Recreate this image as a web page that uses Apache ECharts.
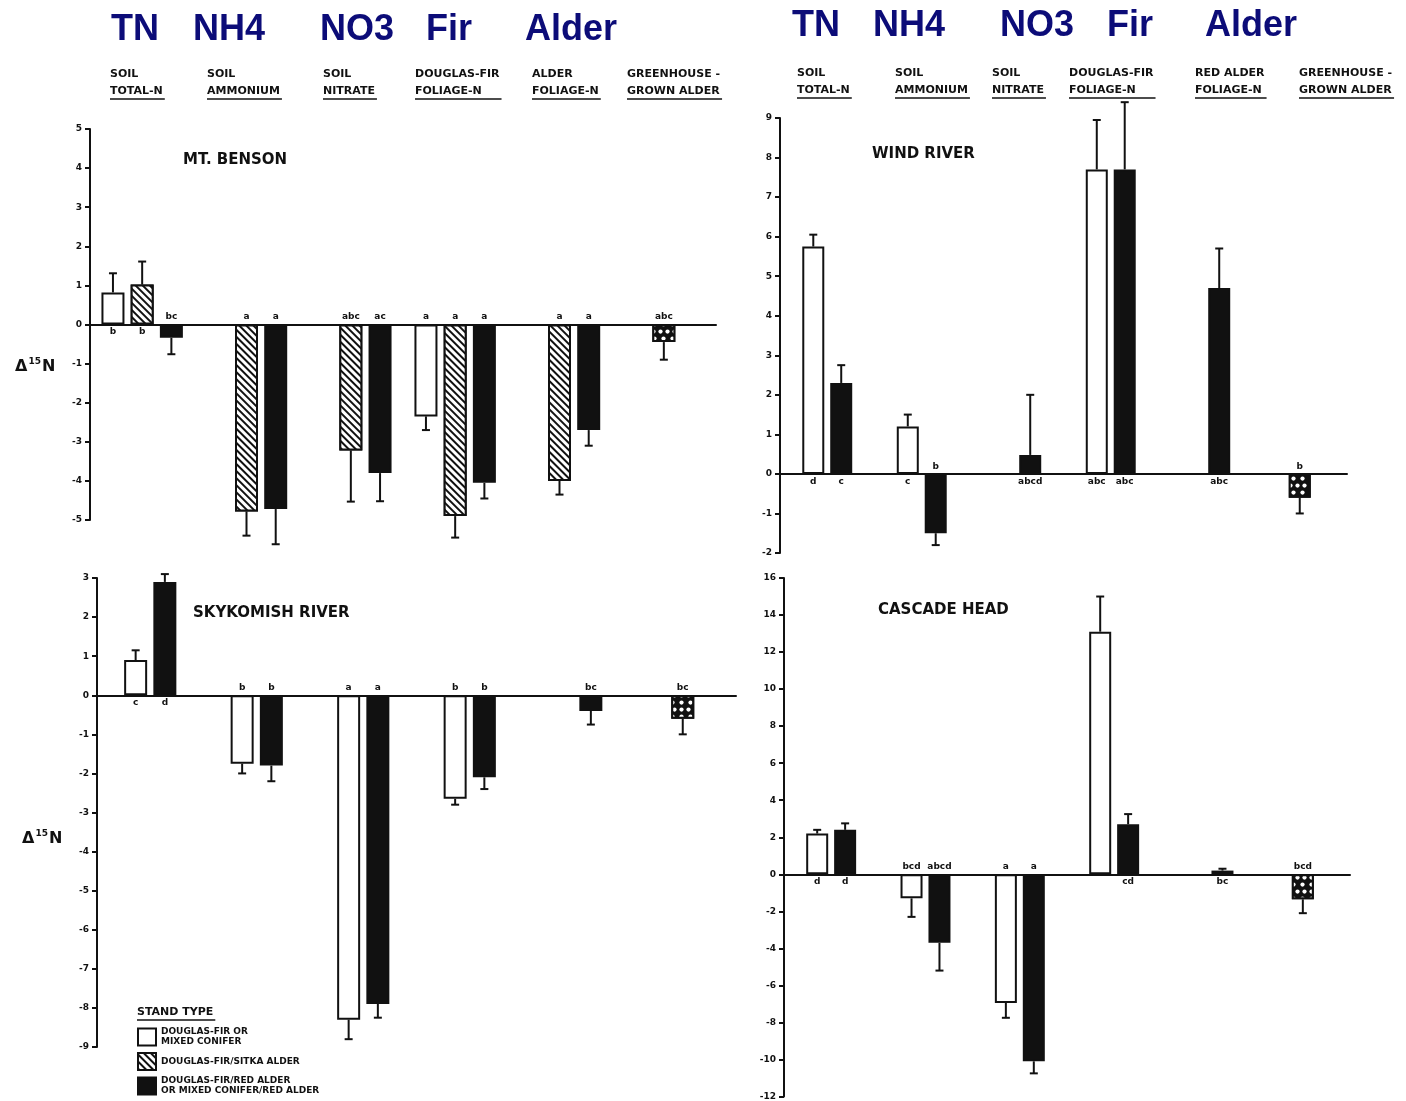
<!DOCTYPE html>
<html>
<head>
<meta charset="utf-8">
<script src="https://cdn.jsdelivr.net/npm/echarts@6/dist/echarts.min.js"></script>
<style>
  html, body { margin: 0; padding: 0; background: #fff; }
  #chart { width: 1406px; height: 1101px; }
</style>
</head>
<body>
<div id="chart"></div>
<script>
// ---------------- data ----------------
const shortLabels = ['TN', 'NH4', 'NO3', 'Fir', 'Alder'];
const groupsLeft = ['SOIL\nTOTAL-N', 'SOIL\nAMMONIUM', 'SOIL\nNITRATE', 'DOUGLAS-FIR\nFOLIAGE-N', 'ALDER\nFOLIAGE-N', 'GREENHOUSE -\nGROWN ALDER'];
const groupsRight = ['SOIL\nTOTAL-N', 'SOIL\nAMMONIUM', 'SOIL\nNITRATE', 'DOUGLAS-FIR\nFOLIAGE-N', 'RED ALDER\nFOLIAGE-N', 'GREENHOUSE -\nGROWN ALDER'];
const standTypes = ['DOUGLAS-FIR OR\nMIXED CONIFER', 'DOUGLAS-FIR/SITKA ALDER', 'DOUGLAS-FIR/RED ALDER\nOR MIXED CONIFER/RED ALDER'];
const greenhouseName = 'GREENHOUSE-GROWN ALDER';
const siteNames = ['MT. BENSON', 'WIND RIVER', 'SKYKOMISH RIVER', 'CASCADE HEAD'];

// y-axis ranges: [min, max, interval]
const mtBensonAxis = [-5, 5, 1];
const windRiverAxis = [-2, 9, 1];
const skykomishAxis = [-9, 3, 1];
const cascadeAxis = [-12, 16, 2];

// Mt. Benson (mean, end of error bar, significance letters)
const mbConiferMean = [0.82, null, null, -2.35, null];
const mbConiferErr  = [1.31, null, null, -2.7, null];
const mbConiferSig  = ['b', '', '', 'a', ''];
const mbSitkaMean = [1.02, -4.78, -3.22, -4.9, -4.0];
const mbSitkaErr  = [1.61, -5.4, -4.53, -5.45, -4.35];
const mbSitkaSig  = ['b', 'a', 'abc', 'a', 'a'];
const mbRedMean = [-0.34, -4.72, -3.8, -4.05, -2.7];
const mbRedErr  = [-0.76, -5.62, -4.52, -4.45, -3.1];
const mbRedSig  = ['bc', 'a', 'ac', 'a', 'a'];
const mbGreenMean = -0.45, mbGreenErr = -0.9, mbGreenSig = 'abc';

// Wind River
const wrConiferMean = [5.75, 1.2, null, 7.7, null];
const wrConiferErr  = [6.05, 1.5, null, 8.95, null];
const wrConiferSig  = ['d', 'c', '', 'abc', ''];
const wrRedMean = [2.3, -1.5, 0.48, 7.7, 4.7];
const wrRedErr  = [2.75, -1.8, 2.0, 9.4, 5.7];
const wrRedSig  = ['c', 'b', 'abcd', 'abc', 'abc'];
const wrGreenMean = -0.6, wrGreenErr = -1.0, wrGreenSig = 'b';

// Skykomish River
const skConiferMean = [0.9, -1.75, -8.3, -2.65, null];
const skConiferErr  = [1.15, -2.0, -8.8, -2.8, null];
const skConiferSig  = ['c', 'b', 'a', 'b', ''];
const skRedMean = [2.9, -1.8, -7.9, -2.1, -0.4];
const skRedErr  = [3.1, -2.2, -8.25, -2.4, -0.75];
const skRedSig  = ['d', 'b', 'a', 'b', 'bc'];
const skGreenMean = -0.6, skGreenErr = -1.0, skGreenSig = 'bc';

// Cascade Head
const chConiferMean = [2.2, -1.3, -6.95, 13.1, null];
const chConiferErr  = [2.4, -2.3, -7.75, 15.0, null];
const chConiferSig  = ['d', 'bcd', 'a', '', ''];
const chRedMean = [2.4, -3.7, -10.1, 2.7, 0.2];
const chRedErr  = [2.75, -5.2, -10.75, 3.25, 0.3];
const chRedSig  = ['d', 'abcd', 'a', 'cd', 'bc'];
const chGreenMean = -1.35, chGreenErr = -2.1, chGreenSig = 'bcd';

// ---------------- layout & style ----------------
const INK = '#111';
const NAVY = '#0c0c78';
const FONT = '"DejaVu Sans", "Liberation Sans", sans-serif';
const BAR_GAP_PCT = 27;

const panels = [
  { grid: { left: 90,  top: 129, width: 626, height: 391 }, axis: mtBensonAxis,  barWidth: 23, groups: groupsLeft },
  { grid: { left: 780, top: 118, width: 567, height: 435 }, axis: windRiverAxis, barWidth: 22, groups: groupsRight },
  { grid: { left: 97,  top: 578, width: 639, height: 469 }, axis: skykomishAxis, barWidth: 23, groups: groupsLeft },
  { grid: { left: 784, top: 578, width: 566, height: 540 }, axis: cascadeAxis,   barWidth: 22, groups: groupsRight }
];

const standStyles = [
  { color: '#fff', borderColor: INK, borderWidth: 2 },
  { color: '#fff', borderColor: INK, borderWidth: 2,
    decal: { symbol: 'rect', symbolSize: 1, color: INK, backgroundColor: '#fff',
             dashArrayX: [[1, 0]], dashArrayY: [2, 2.5], rotation: Math.PI / 4 } },
  { color: INK, borderColor: INK, borderWidth: 2 }
];
const greenhouseStyle = { color: INK, borderColor: INK, borderWidth: 2,
  decal: { symbol: 'circle', symbolSize: 0.85, color: '#fff', backgroundColor: INK,
           dashArrayX: [[5, 2], [0, 3.5, 5, 0]], dashArrayY: [5, 1.5], rotation: 0 } };

const letterLabel = { show: false, fontSize: 9, fontWeight: 'bold', color: INK, distance: 3, fontFamily: FONT };

function errorBar(offset) {
  return function (params, api) {
    const i = api.value(0);
    const p0 = api.coord([i, api.value(1)]);
    const p1 = api.coord([i, api.value(2)]);
    const cx = p0[0] + offset;
    const lineStyle = { stroke: INK, lineWidth: 2 };
    return {
      type: 'group',
      children: [
        { type: 'line', shape: { x1: cx, y1: p0[1], x2: cx, y2: p1[1] }, style: lineStyle },
        { type: 'line', shape: { x1: cx - 4, y1: p1[1], x2: cx + 4, y2: p1[1] }, style: lineStyle }
      ]
    };
  };
}

function letterItem(v, sig) {
  return { value: v, label: { show: !!sig, formatter: sig || '', position: v >= 0 ? 'bottom' : 'top' } };
}

function buildSite(k, stands, green) {
  const bw = panels[k].barWidth;
  const n = stands.length;
  const list = [];
  stands.forEach(function (s, i) {
    list.push({
      type: 'bar', name: standTypes[s.type], xAxisIndex: 2 * k, yAxisIndex: k,
      barWidth: bw, barGap: BAR_GAP_PCT + '%', itemStyle: standStyles[s.type],
      label: letterLabel, z: 2, silent: true,
      data: s.mean.map(function (v, j) { return v == null ? '-' : letterItem(v, s.sig[j]); }).concat(['-'])
    });
    const offset = (i - (n - 1) / 2) * bw * (1 + BAR_GAP_PCT / 100);
    list.push({
      type: 'custom', xAxisIndex: 2 * k, yAxisIndex: k, z: 3, silent: true,
      renderItem: errorBar(offset), encode: { x: 0, y: [1, 2] },
      data: s.mean.map(function (v, j) { return v == null ? null : [j, v, s.err[j]]; })
                  .filter(function (d) { return d; })
    });
  });
  const gIndex = panels[k].groups.length - 1;
  list.push({
    type: 'bar', name: greenhouseName, xAxisIndex: 2 * k + 1, yAxisIndex: k,
    barWidth: bw, itemStyle: greenhouseStyle, label: letterLabel, z: 2, silent: true,
    data: panels[k].groups.map(function (g, j) { return j === gIndex ? letterItem(green.mean, green.sig) : '-'; })
  });
  list.push({
    type: 'custom', xAxisIndex: 2 * k + 1, yAxisIndex: k, z: 3, silent: true,
    renderItem: errorBar(0), encode: { x: 0, y: [1, 2] },
    data: [[gIndex, green.mean, green.err]]
  });
  return list;
}

const series = [].concat(
  buildSite(0, [
    { type: 0, mean: mbConiferMean, err: mbConiferErr, sig: mbConiferSig },
    { type: 1, mean: mbSitkaMean, err: mbSitkaErr, sig: mbSitkaSig },
    { type: 2, mean: mbRedMean, err: mbRedErr, sig: mbRedSig }
  ], { mean: mbGreenMean, err: mbGreenErr, sig: mbGreenSig }),
  buildSite(1, [
    { type: 0, mean: wrConiferMean, err: wrConiferErr, sig: wrConiferSig },
    { type: 2, mean: wrRedMean, err: wrRedErr, sig: wrRedSig }
  ], { mean: wrGreenMean, err: wrGreenErr, sig: wrGreenSig }),
  buildSite(2, [
    { type: 0, mean: skConiferMean, err: skConiferErr, sig: skConiferSig },
    { type: 2, mean: skRedMean, err: skRedErr, sig: skRedSig }
  ], { mean: skGreenMean, err: skGreenErr, sig: skGreenSig }),
  buildSite(3, [
    { type: 0, mean: chConiferMean, err: chConiferErr, sig: chConiferSig },
    { type: 2, mean: chRedMean, err: chRedErr, sig: chRedSig }
  ], { mean: chGreenMean, err: chGreenErr, sig: chGreenSig })
);

const xAxes = [], yAxes = [];
panels.forEach(function (p, k) {
  xAxes.push({
    type: 'category', gridIndex: k, data: p.groups,
    axisLine: { show: true, onZero: true, lineStyle: { color: INK, width: 2 } },
    axisTick: { show: false }, axisLabel: { show: false }, splitLine: { show: false }
  });
  xAxes.push({ type: 'category', gridIndex: k, data: p.groups, show: false, axisLine: { onZero: false } });
  yAxes.push({
    type: 'value', gridIndex: k, min: p.axis[0], max: p.axis[1], interval: p.axis[2],
    axisLine: { show: true, lineStyle: { color: INK, width: 2 } },
    axisTick: { show: true, length: 5, lineStyle: { color: INK, width: 2 } },
    splitLine: { show: false },
    axisLabel: { fontSize: 9, fontWeight: 'bold', color: INK, margin: 8, fontFamily: FONT }
  });
});

// ---------------- annotations ----------------
const measureCtx = document.createElement('canvas').getContext('2d');
function textWidth(str, font) { measureCtx.font = font; return measureCtx.measureText(str).width; }

const graphic = [];
const bigFont = 'bold 36px "Liberation Sans", Arial, sans-serif';
const shortPos = [
  { xs: [135, 229, 357, 449, 571], y: 30 },
  { xs: [816, 909, 1037, 1130, 1251], y: 26 }
];
shortPos.forEach(function (row) {
  shortLabels.forEach(function (t, i) {
    graphic.push({ type: 'text', style: { text: t, x: row.xs[i], y: row.y, font: bigFont, fill: NAVY,
      textAlign: 'center', textVerticalAlign: 'middle' } });
  });
});

const headFont = 'bold 11px ' + FONT;
const headerPos = [
  { xs: [110, 207, 323, 415, 532, 627], y: 74, groups: groupsLeft },
  { xs: [797, 895, 992, 1069, 1195, 1299], y: 73, groups: groupsRight }
];
headerPos.forEach(function (row) {
  row.groups.forEach(function (g, i) {
    const lines = g.split('\n');
    const w = Math.max(textWidth(lines[0], headFont), textWidth(lines[1], headFont));
    lines.forEach(function (ln, j) {
      graphic.push({ type: 'text', style: { text: ln, x: row.xs[i], y: row.y + j * 17, font: headFont,
        fill: INK, textAlign: 'left', textVerticalAlign: 'middle' } });
    });
    graphic.push({ type: 'line', shape: { x1: row.xs[i], y1: row.y + 25, x2: row.xs[i] + w + 2, y2: row.y + 25 },
      style: { stroke: INK, lineWidth: 1.5 } });
  });
});

const titlePos = [[183, 160], [872, 154], [193, 613], [878, 610]];
siteNames.forEach(function (name, i) {
  graphic.push({ type: 'text', style: { text: name, x: titlePos[i][0], y: titlePos[i][1],
    font: 'bold 15px ' + FONT, fill: INK, textAlign: 'left', textVerticalAlign: 'middle' } });
});

[[15, 366], [22, 838]].forEach(function (pos) {
  graphic.push({ type: 'text', style: { text: '{d|Δ}{s|15}{d|N}', x: pos[0], y: pos[1],
    textAlign: 'left', textVerticalAlign: 'middle',
    rich: { d: { font: 'bold 16px ' + FONT, fill: INK, verticalAlign: 'bottom' },
            s: { font: 'bold 9px ' + FONT, fill: INK, verticalAlign: 'top', padding: [0, 1, 8, 1] } } } });
});

const standTitleFont = 'bold 11px ' + FONT;
graphic.push({ type: 'text', style: { text: 'STAND TYPE', x: 137, y: 1012, font: standTitleFont, fill: INK,
  textAlign: 'left', textVerticalAlign: 'middle' } });
graphic.push({ type: 'line', shape: { x1: 137, y1: 1020, x2: 139 + textWidth('STAND TYPE', standTitleFont), y2: 1020 },
  style: { stroke: INK, lineWidth: 1.5 } });

const chart = echarts.init(document.getElementById('chart'), null, { renderer: 'canvas' });
chart.setOption({
  backgroundColor: '#fff',
  animation: false,
  grid: panels.map(function (p) { return Object.assign({ containLabel: false }, p.grid); }),
  xAxis: xAxes,
  yAxis: yAxes,
  legend: {
    data: standTypes, orient: 'vertical', left: 137, top: 1027, height: 200, padding: 0,
    itemWidth: 18, itemHeight: 17, itemGap: 5,
    selectedMode: false, icon: 'rect',
    itemStyle: { borderColor: INK, borderWidth: 2 },
    textStyle: { fontSize: 9, fontWeight: 'bold', color: INK, fontFamily: FONT, lineHeight: 10 }
  },
  graphic: graphic,
  series: series
});
</script>
</body>
</html>
